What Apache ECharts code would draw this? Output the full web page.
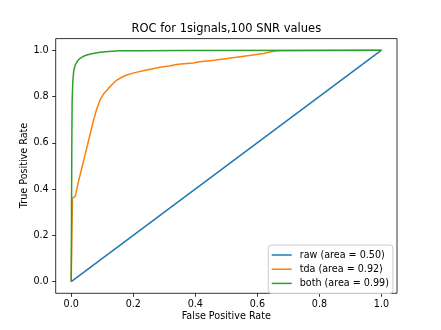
<!DOCTYPE html>
<html>
<head>
<meta charset="utf-8">
<script src="https://cdn.jsdelivr.net/npm/echarts@6/dist/echarts.min.js"></script>
<style>html,body{margin:0;padding:0;background:#fff}#c{width:441px;height:330px}</style>
</head>
<body>
<div id="c"></div>
<script>
const titleText = "ROC for 1signals,100 SNR values";
const xLabel = "False Positive Rate";
const yLabel = "True Positive Rate";
const tickValues = [0, 0.2, 0.4, 0.6, 0.8, 1.0];
const seriesNames = ["raw (area = 0.50)", "tda (area = 0.92)", "both (area = 0.99)"];

const rawFpr = [0, 1];
const rawTpr = [0, 1];

const tdaFpr = [0, 0.002, 0.004, 0.008, 0.013, 0.023, 0.034, 0.045, 0.056, 0.072, 0.082, 0.093, 0.105, 0.12, 0.135, 0.147, 0.163, 0.179, 0.205, 0.232, 0.26, 0.286, 0.315, 0.345, 0.393, 0.414, 0.46, 0.532, 0.58, 0.62, 0.639, 0.666, 1.0];
const tdaTpr = [0, 0.2, 0.36, 0.363, 0.37, 0.43, 0.49, 0.55, 0.61, 0.698, 0.745, 0.785, 0.812, 0.835, 0.856, 0.871, 0.883, 0.893, 0.903, 0.911, 0.919, 0.926, 0.932, 0.939, 0.945, 0.95, 0.957, 0.969, 0.978, 0.986, 0.992, 0.998, 1.0];

const bothFpr = [0, 0.001, 0.002, 0.003, 0.005, 0.008, 0.013, 0.02, 0.029, 0.04, 0.05, 0.07, 0.093, 0.12, 0.157, 0.23, 0.35, 1.0];
const bothTpr = [0, 0.3, 0.6, 0.78, 0.86, 0.91, 0.936, 0.953, 0.965, 0.974, 0.979, 0.986, 0.991, 0.994, 0.997, 0.998, 0.999, 1.0];

const colors = ["#1f77b4", "#ff7f0e", "#2ca02c"];
const F = "DejaVu Sans";

function pairs(xs, ys) { return xs.map((x, i) => [x, ys[i]]); }

const chart = echarts.init(document.getElementById('c'), null, {renderer: 'canvas'});
const axisCommon = {
  type: 'value', min: -0.05, max: 1.05,
  axisLine: {show: false, onZero: false},
  splitLine: {show: false},
  axisTick: {show: true, customValues: tickValues, length: 3.5, inside: false, lineStyle: {color: '#000', width: 0.8}},
  axisLabel: {show: true, customValues: tickValues, formatter: v => v.toFixed(1), color: '#000', fontFamily: F, fontSize: 9.6},
};
chart.setOption({
  animation: false,
  backgroundColor: '#fff',
  grid: {left: 55.7, right: 44, top: 38.6, bottom: 36.7, show: true, borderColor: '#000', borderWidth: 0.8, backgroundColor: 'transparent'},
  xAxis: Object.assign({}, axisCommon, {position: 'bottom', axisLabel: Object.assign({}, axisCommon.axisLabel, {margin: 6})}),
  yAxis: Object.assign({}, axisCommon, {position: 'left', axisLabel: Object.assign({}, axisCommon.axisLabel, {margin: 7})}),
  legend: {
    orient: 'vertical', left: 268.3, top: 245,
    data: seriesNames,
    icon: 'path://M0,0 L20,0 L20,1.5 L0,1.5 Z',
    itemWidth: 20, itemHeight: 1.5, itemGap: 2.2,
    padding: [4, 4, 4, 3.4],
    borderColor: '#cccccc', borderWidth: 1, borderRadius: 3, backgroundColor: 'rgba(255,255,255,0.8)',
    textStyle: {fontFamily: F, fontSize: 9.6, color: '#000', lineHeight: 12, padding: [0, 0, 0, 3]}
  },
  graphic: [
    {type: 'text', x: 226.3, y: 29.3, style: {text: titleText, font: '11.5px "DejaVu Sans"', fill: '#000', align: 'center', verticalAlign: 'middle'}},
    {type: 'text', x: 226.3, y: 316.7, style: {text: xLabel, font: '9.6px "DejaVu Sans"', fill: '#000', align: 'center', verticalAlign: 'middle'}},
    {type: 'text', x: 24.3, y: 165.5, rotation: Math.PI / 2, style: {text: yLabel, font: '9.6px "DejaVu Sans"', fill: '#000', align: 'center', verticalAlign: 'middle'}}
  ],
  series: [
    {name: seriesNames[0], type: 'line', data: pairs(rawFpr, rawTpr), showSymbol: false, lineStyle: {color: colors[0], width: 1.5}, itemStyle: {color: colors[0]}},
    {name: seriesNames[1], type: 'line', data: pairs(tdaFpr, tdaTpr), showSymbol: false, lineStyle: {color: colors[1], width: 1.5}, itemStyle: {color: colors[1]}},
    {name: seriesNames[2], type: 'line', data: pairs(bothFpr, bothTpr), showSymbol: false, lineStyle: {color: colors[2], width: 1.5}, itemStyle: {color: colors[2]}}
  ]
});
</script>
</body>
</html>
